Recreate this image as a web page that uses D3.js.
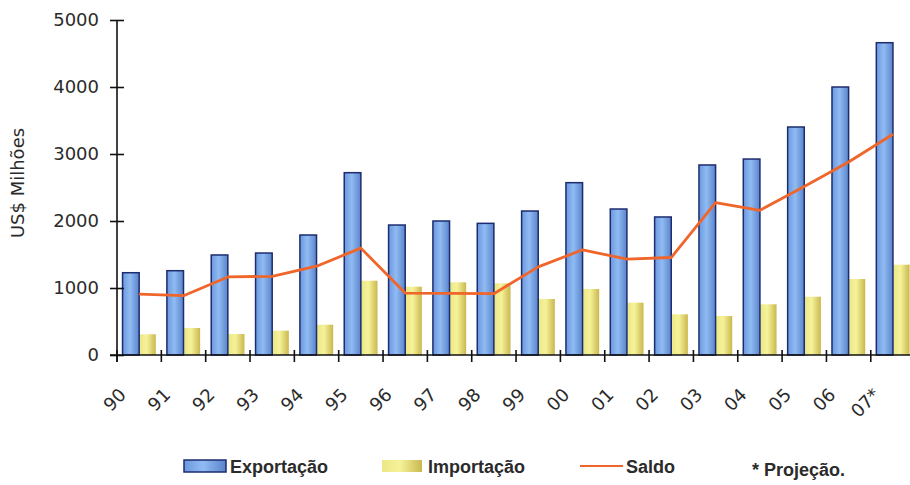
<!DOCTYPE html>
<html>
<head>
<meta charset="utf-8">
<script src="https://cdn.jsdelivr.net/npm/d3@7"></script>
<style>
  body { margin: 0; background: #fff; }
  svg { display: block; }
</style>
</head>
<body>
<svg id="chart" width="910" height="485"></svg>
<script>
// Balança comercial, US$ milhões (07 = projeção)
const anos = ["90","91","92","93","94","95","96","97","98","99","00","01","02","03","04","05","06","07*"];
const exportacao = [1228, 1258, 1493, 1522, 1791, 2721, 1940, 2000, 1965, 2149, 2572, 2179, 2060, 2836, 2925, 3403, 4000, 4661];
const importacao = [309, 403, 313, 363, 452, 1109, 1020, 1085, 1070, 836, 985, 781, 607, 582, 757, 870, 1134, 1348];
const saldo = [910, 885, 1165, 1175, 1325, 1595, 925, 920, 915, 1315, 1570, 1430, 1455, 2275, 2160, 2515, 2880, 3295];
const yTicks = [0, 1000, 2000, 3000, 4000, 5000];

const legendItems = [
  { label: "Exportação", kind: "exp" },
  { label: "Importação", kind: "imp" },
  { label: "Saldo", kind: "line" }
];
const nota = "* Projeção.";

const svg = d3.select("#chart");
const axisColor = "#111";
const textColor = "#2b2b2b";

// Gradients for the bars
const defs = svg.append("defs");
function hGrad(id, stops) {
  const g = defs.append("linearGradient").attr("id", id)
    .attr("x1", "0%").attr("x2", "100%").attr("y1", "0%").attr("y2", "0%");
  stops.forEach(([o, c]) => g.append("stop").attr("offset", o).attr("stop-color", c));
}
hGrad("gradExp", [["0%", "#6b98e0"], ["45%", "#90bbf2"], ["100%", "#5a84cb"]]);
hGrad("gradImp", [["0%", "#ebe784"], ["45%", "#f6f29a"], ["100%", "#c9b84e"]]);

const left = 117, baseY = 355, step = 44.34;
const x = d3.scaleBand().domain(anos).range([left, left + anos.length * step]).padding(0);
const y = d3.scaleLinear().domain([0, 5000]).range([baseY, 20]);
const bw = x.bandwidth() * 0.375;
const cx = d => x(d) + x.bandwidth() / 2;

const data = anos.map((a, i) => ({ ano: a, exp: exportacao[i], imp: importacao[i], saldo: saldo[i] }));

// Bars
svg.append("g").selectAll("rect.imp").data(data).join("rect")
  .attr("class", "imp")
  .attr("x", d => cx(d.ano))
  .attr("width", bw)
  .attr("y", d => y(d.imp))
  .attr("height", d => baseY - y(d.imp))
  .attr("fill", "url(#gradImp)");

svg.append("g").selectAll("rect.exp").data(data).join("rect")
  .attr("class", "exp")
  .attr("x", d => cx(d.ano) - bw)
  .attr("width", bw)
  .attr("y", d => y(d.exp))
  .attr("height", d => baseY - y(d.exp))
  .attr("fill", "url(#gradExp)")
  .attr("stroke", "#1d2c6e")
  .attr("stroke-width", 1.5);

// Saldo line
svg.append("path").datum(data)
  .attr("fill", "none")
  .attr("stroke", "#f0652a")
  .attr("stroke-width", 2.8)
  .attr("stroke-linejoin", "round")
  .attr("d", d3.line().x(d => cx(d.ano)).y(d => y(d.saldo)));

// Y axis
const yAxis = svg.append("g").attr("transform", `translate(${left},0)`)
  .call(d3.axisLeft(y).tickValues(yTicks).tickFormat(d3.format("d"))
    .tickSize(7).tickSizeOuter(0).tickPadding(11));
yAxis.select(".domain").attr("d", `M0,${y(5000)}V${baseY + 7}`).attr("stroke", axisColor).attr("stroke-width", 1.6);
yAxis.selectAll(".tick line").attr("x1", -7).attr("x2", 7).attr("stroke", axisColor).attr("stroke-width", 1.6);
yAxis.selectAll(".tick text")
  .attr("font-family", "'DejaVu Sans', Verdana, sans-serif")
  .attr("font-size", 18).attr("fill", textColor);

// X axis: ticks between categories, rotated labels
const xAxis = svg.append("g").attr("transform", `translate(0,${baseY})`)
  .call(d3.axisBottom(x).tickSize(0).tickSizeOuter(0));
xAxis.select(".domain").attr("stroke", axisColor).attr("stroke-width", 1.6)
  .attr("d", `M${left - 7},0H910`);
xAxis.selectAll(".tick").append("line")
  .attr("x1", -step / 2).attr("x2", -step / 2)
  .attr("y1", -5).attr("y2", 7)
  .attr("stroke", axisColor).attr("stroke-width", 1.6);
xAxis.selectAll(".tick text")
  .attr("font-family", "'DejaVu Sans', Verdana, sans-serif")
  .attr("font-size", 18).attr("fill", textColor)
  .attr("text-anchor", "end")
  .attr("x", 0).attr("y", 0).attr("dy", 0)
  .attr("transform", "translate(-12,41) rotate(-45)");

// Y title
svg.append("text")
  .attr("transform", "translate(24,183) rotate(-90)")
  .attr("text-anchor", "middle")
  .attr("font-family", "'DejaVu Sans', Verdana, sans-serif")
  .attr("font-size", 18).attr("fill", "#2b2b2b")
  .text("US$ Milhões");

// Legend
const legX = [184, 382, 580];
const lg = svg.append("g").attr("font-family", "'Liberation Sans', Arial, sans-serif")
  .attr("font-size", 18).attr("font-weight", "bold").attr("fill", textColor);
legendItems.forEach((it, i) => {
  const x0 = legX[i];
  if (it.kind === "exp") {
    lg.append("rect").attr("x", x0).attr("y", 460).attr("width", 42).attr("height", 12)
      .attr("fill", "url(#gradExp)").attr("stroke", "#1d2c6e").attr("stroke-width", 1.5);
  } else if (it.kind === "imp") {
    lg.append("rect").attr("x", x0).attr("y", 460).attr("width", 40).attr("height", 12)
      .attr("fill", "url(#gradImp)");
  } else {
    lg.append("line").attr("x1", x0).attr("x2", x0 + 43).attr("y1", 466).attr("y2", 466)
      .attr("stroke", "#f0652a").attr("stroke-width", 1.8);
  }
  lg.append("text").attr("x", x0 + 46).attr("y", 473).text(it.label);
});
lg.append("text").attr("x", 752).attr("y", 476).text(nota);
</script>
</body>
</html>
